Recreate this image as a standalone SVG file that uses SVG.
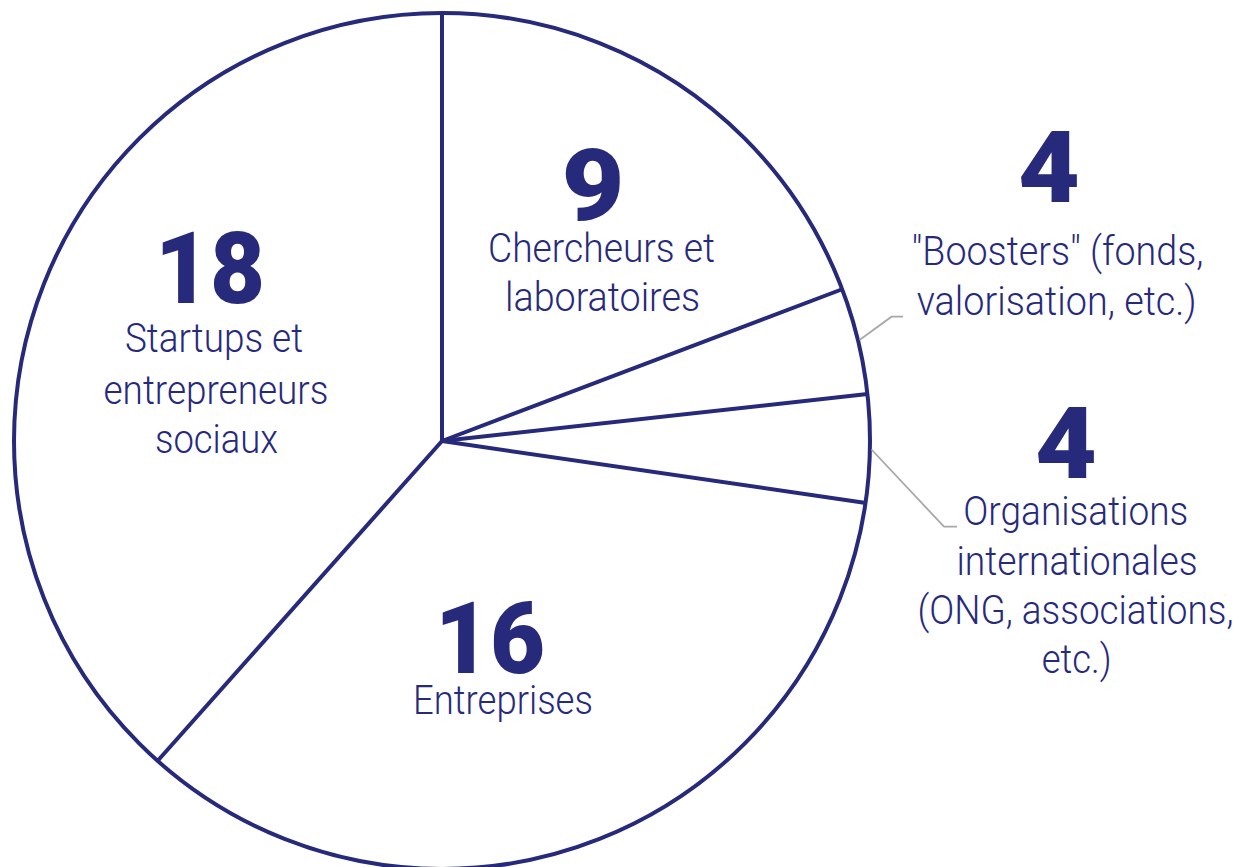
<svg xmlns="http://www.w3.org/2000/svg" width="1245" height="867" viewBox="0 0 1245 867">
<style>
.pie{fill:none;stroke:#27297b;stroke-width:4;stroke-linecap:butt}
.num{font-family:Roboto,"Liberation Sans",sans-serif;font-weight:900;font-size:100px;fill:#27297b;text-anchor:middle}
.lbl{font-family:Roboto,"Liberation Sans",sans-serif;font-weight:300;font-size:40px;fill:#27297b;text-anchor:middle}
.lead{fill:none;stroke:#a8a8a8;stroke-width:1.8}
</style>
<rect width="1245" height="867" fill="#ffffff"/>
<g id="pie">
<circle class="pie" cx="442" cy="441" r="428"/>
<line class="pie" x1="442" y1="441" x2="442" y2="13"/>
<line class="pie" x1="442" y1="441" x2="841.5" y2="289.5"/>
<line class="pie" x1="442" y1="441" x2="867.5" y2="394"/>
<line class="pie" x1="442" y1="441" x2="866" y2="503"/>
<line class="pie" x1="442" y1="441" x2="157.5" y2="761"/>
</g>
<g id="connectors">
<polyline class="lead" points="859.5,340 891.5,316.7 903,316.7"/>
<polyline class="lead" points="871.5,449.5 944,526.7 957,526.7"/>
</g>
<g id="node-chercheurs">
<text class="num" x="593" y="220" textLength="63" lengthAdjust="spacingAndGlyphs">9</text>
<text class="lbl" x="601.5" y="262" textLength="227" lengthAdjust="spacingAndGlyphs">Chercheurs et</text>
<text class="lbl" x="602.5" y="311" textLength="195" lengthAdjust="spacingAndGlyphs">laboratoires</text>
</g>
<g id="node-startups">
<text class="num" x="210" y="303" textLength="110" lengthAdjust="spacingAndGlyphs">18</text>
<text class="lbl" x="214" y="352" textLength="178" lengthAdjust="spacingAndGlyphs">Startups et</text>
<text class="lbl" x="216" y="404" textLength="225" lengthAdjust="spacingAndGlyphs">entrepreneurs</text>
<text class="lbl" x="216.5" y="453" textLength="123" lengthAdjust="spacingAndGlyphs">sociaux</text>
</g>
<g id="node-entreprises">
<text class="num" x="490" y="673" textLength="110" lengthAdjust="spacingAndGlyphs">16</text>
<text class="lbl" x="503" y="714" textLength="180" lengthAdjust="spacingAndGlyphs">Entreprises</text>
</g>
<g id="node-boosters">
<text class="num" x="1049" y="201.5" textLength="62" lengthAdjust="spacingAndGlyphs">4</text>
<text class="lbl" x="1057.5" y="265" textLength="292" lengthAdjust="spacingAndGlyphs">"Boosters" (fonds,</text>
<text class="lbl" x="1056.7" y="315" textLength="280" lengthAdjust="spacingAndGlyphs">valorisation, etc.)</text>
</g>
<g id="node-organisations">
<text class="num" x="1066" y="478" textLength="62" lengthAdjust="spacingAndGlyphs">4</text>
<text class="lbl" x="1075.8" y="525" textLength="225" lengthAdjust="spacingAndGlyphs">Organisations</text>
<text class="lbl" x="1077" y="575" textLength="241" lengthAdjust="spacingAndGlyphs">internationales</text>
<text class="lbl" x="1075.5" y="623.5" textLength="316" lengthAdjust="spacingAndGlyphs">(ONG, associations,</text>
<text class="lbl" x="1076.7" y="673" textLength="70" lengthAdjust="spacingAndGlyphs">etc.)</text>
</g>
</svg>
